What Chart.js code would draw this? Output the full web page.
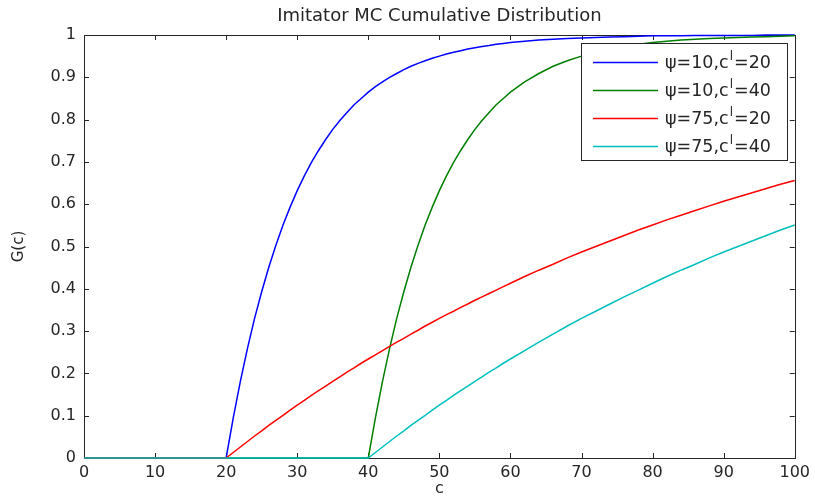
<!DOCTYPE html>
<html>
<head>
<meta charset="utf-8">
<title>Imitator MC Cumulative Distribution</title>
<script src="https://cdn.jsdelivr.net/npm/chart.js@4.4.1/dist/chart.umd.min.js"></script>
<style>
  body { margin: 0; background: #fff; }
  canvas { display: block; }
</style>
</head>
<body>
<canvas id="cdf" width="815" height="499"></canvas>
<script>
// cost grid c (finer where the curves rise fast)
var cVals = [0, 2, 4, 6, 8, 10, 12, 14, 16, 18, 20,
  21, 22, 23, 24, 25, 26, 27, 28, 29, 30, 31, 32, 33, 34, 35, 36, 37, 38, 39, 40,
  41, 42, 43, 44, 45, 46, 47, 48, 49, 50, 51, 52, 53, 54, 55, 56, 57, 58, 59, 60,
  62, 64, 66, 68, 70, 72, 74, 76, 78, 80, 82, 84, 86, 88, 90, 92, 94, 96, 98, 100];

// G(c) for each parameter pair
var g10_20 = [0, 0, 0, 0, 0, 0, 0, 0, 0, 0, 0,
  0.095, 0.181, 0.259, 0.330, 0.393, 0.451, 0.503, 0.551, 0.593, 0.632,
  0.667, 0.699, 0.727, 0.753, 0.777, 0.798, 0.817, 0.835, 0.850, 0.865,
  0.878, 0.889, 0.900, 0.909, 0.918, 0.926, 0.933, 0.939, 0.945, 0.950,
  0.955, 0.959, 0.963, 0.967, 0.970, 0.973, 0.975, 0.978, 0.980, 0.982,
  0.985, 0.988, 0.990, 0.992, 0.993, 0.994, 0.995, 0.996, 0.997, 0.998,
  0.998, 0.998, 0.999, 0.999, 0.999, 0.999, 0.999, 1, 1, 1];
var g10_40 = [0, 0, 0, 0, 0, 0, 0, 0, 0, 0, 0,
  0, 0, 0, 0, 0, 0, 0, 0, 0, 0, 0, 0, 0, 0, 0, 0, 0, 0, 0, 0,
  0.095, 0.181, 0.259, 0.330, 0.393, 0.451, 0.503, 0.551, 0.593, 0.632,
  0.667, 0.699, 0.727, 0.753, 0.777, 0.798, 0.817, 0.835, 0.850, 0.865,
  0.889, 0.909, 0.926, 0.939, 0.950, 0.959, 0.967, 0.973, 0.978, 0.982,
  0.985, 0.988, 0.990, 0.992, 0.993, 0.994, 0.995, 0.996, 0.997, 0.998];
var g75_20 = [0, 0, 0, 0, 0, 0, 0, 0, 0, 0, 0,
  0.013, 0.026, 0.039, 0.052, 0.064, 0.077, 0.089, 0.101, 0.113, 0.125,
  0.136, 0.148, 0.159, 0.170, 0.181, 0.192, 0.203, 0.213, 0.224, 0.234,
  0.244, 0.254, 0.264, 0.274, 0.283, 0.293, 0.302, 0.312, 0.321, 0.330,
  0.339, 0.347, 0.356, 0.364, 0.373, 0.381, 0.389, 0.397, 0.405, 0.413,
  0.429, 0.444, 0.458, 0.473, 0.487, 0.500, 0.513, 0.526, 0.539, 0.551,
  0.563, 0.574, 0.585, 0.596, 0.607, 0.617, 0.627, 0.637, 0.647, 0.656];
var g75_40 = [0, 0, 0, 0, 0, 0, 0, 0, 0, 0, 0,
  0, 0, 0, 0, 0, 0, 0, 0, 0, 0, 0, 0, 0, 0, 0, 0, 0, 0, 0, 0,
  0.013, 0.026, 0.039, 0.052, 0.064, 0.077, 0.089, 0.101, 0.113, 0.125,
  0.136, 0.148, 0.159, 0.170, 0.181, 0.192, 0.203, 0.213, 0.224, 0.234,
  0.254, 0.274, 0.293, 0.312, 0.330, 0.347, 0.364, 0.381, 0.397, 0.413,
  0.429, 0.444, 0.458, 0.473, 0.487, 0.500, 0.513, 0.526, 0.539, 0.551];

var seriesLabels = ['ψ=10,cˡ=20', 'ψ=10,cˡ=40', 'ψ=75,cˡ=20', 'ψ=75,cˡ=40'];
var seriesColors = ['#0000ff', '#007f00', '#ff0000', '#00bfbf'];
var xTicks = [0, 10, 20, 30, 40, 50, 60, 70, 80, 90, 100];
var yTicks = [0, 0.1, 0.2, 0.3, 0.4, 0.5, 0.6, 0.7, 0.8, 0.9, 1];

var FONT = '"DejaVu Sans", "Liberation Sans", Arial, sans-serif';
var AXIS_COLOR = '#262626';

var toPoints = function(ys) {
  return ys.map(function(y, i) { return { x: cVals[i], y: y }; });
};

var allSeries = [g10_20, g10_40, g75_20, g75_40];
var datasets = allSeries.map(function(ys, i) {
  return {
    label: seriesLabels[i],
    data: toPoints(ys),
    borderColor: seriesColors[i],
    backgroundColor: seriesColors[i],
    borderWidth: 1.5,
    pointRadius: 0,
    fill: false,
    clip: 4,                      // let lines sitting on the box show fully
    order: allSeries.length - i   // later series on top, like hold on
  };
});

// axes box with inward ticks on all four sides
var boxPlugin = {
  id: 'matlabBox',
  beforeDatasetsDraw: function(chart) {
    var ctx = chart.ctx, a = chart.chartArea;
    var xs = chart.scales.x, ys = chart.scales.y;
    var len = 5;
    ctx.save();
    ctx.strokeStyle = AXIS_COLOR;
    ctx.lineWidth = 1;
    ctx.strokeRect(Math.round(a.left) + 0.5, Math.round(a.top) + 0.5,
      Math.round(a.right - a.left), Math.round(a.bottom - a.top));
    ctx.beginPath();
    xTicks.forEach(function(v) {
      var px = Math.round(xs.getPixelForValue(v)) + 0.5;
      ctx.moveTo(px, a.bottom); ctx.lineTo(px, a.bottom - len);
      ctx.moveTo(px, a.top); ctx.lineTo(px, a.top + len);
    });
    yTicks.forEach(function(v) {
      var py = Math.round(ys.getPixelForValue(v)) + 0.5;
      ctx.moveTo(a.left, py); ctx.lineTo(a.left + len, py);
      ctx.moveTo(a.right, py); ctx.lineTo(a.right - len, py);
    });
    ctx.stroke();
    ctx.restore();
  }
};

// boxed legend inside the top right corner of the axes
var legendPlugin = {
  id: 'boxLegend',
  afterDatasetsDraw: function(chart) {
    var ctx = chart.ctx, a = chart.chartArea;
    var w = 206, h = 117, rowH = 28;
    var left = Math.round(a.right - 8 - w), top = Math.round(a.top + 8);
    ctx.save();
    ctx.fillStyle = '#fff';
    ctx.fillRect(left, top, w, h);
    ctx.strokeStyle = AXIS_COLOR;
    ctx.lineWidth = 1;
    ctx.strokeRect(left + 0.5, top + 0.5, w, h);
    chart.data.datasets.forEach(function(ds, i) {
      var y = top + 19 + i * rowH;
      ctx.strokeStyle = ds.borderColor;
      ctx.lineWidth = 1.5;
      ctx.beginPath();
      ctx.moveTo(left + 12, y + 0.5);
      ctx.lineTo(left + 77, y + 0.5);
      ctx.stroke();

      // label with a raised "l" after c
      var parts = ds.label.split('ˡ');
      var x = left + 84;
      ctx.fillStyle = AXIS_COLOR;
      ctx.textBaseline = 'middle';
      ctx.font = '17.5px ' + FONT;
      ctx.fillText(parts[0], x, y + 1);
      x += ctx.measureText(parts[0]).width;
      ctx.font = '12px ' + FONT;
      ctx.fillText('l', x + 1, y - 5);
      x += ctx.measureText('l').width + 2;
      ctx.font = '17.5px ' + FONT;
      ctx.fillText(parts[1], x, y + 1);
    });
    ctx.restore();
  }
};

Chart.defaults.color = AXIS_COLOR;
Chart.defaults.font.family = FONT;

new Chart(document.getElementById('cdf'), {
  type: 'line',
  data: { datasets: datasets },
  options: {
    responsive: false,
    animation: false,
    devicePixelRatio: 1,
    layout: { padding: { top: 0, right: 18, bottom: 0, left: 0 } },
    plugins: {
      legend: { display: false },
      tooltip: { enabled: false },
      title: {
        display: true,
        fullSize: false,
        text: 'Imitator MC Cumulative Distribution',
        color: AXIS_COLOR,
        font: { size: 18, weight: 'normal' },
        padding: { top: 6, bottom: 7.4 }
      }
    },
    scales: {
      x: {
        type: 'linear',
        min: 0,
        max: 100,
        afterFit: function(scale) { scale.height = 41; },
        afterBuildTicks: function(scale) {
          scale.ticks = xTicks.map(function(v) { return { value: v }; });
        },
        grid: { display: false, drawTicks: false },
        border: { display: false },
        ticks: { padding: 5, maxRotation: 0, font: { size: 16 } },
        title: { display: true, text: 'c', font: { size: 16 }, padding: { top: 0, bottom: 1 } }
      },
      y: {
        type: 'linear',
        min: 0,
        max: 1,
        afterFit: function(scale) { scale.width = 84; },
        afterBuildTicks: function(scale) {
          scale.ticks = yTicks.map(function(v) { return { value: v }; });
        },
        grid: { display: false, drawTicks: false },
        border: { display: false },
        ticks: {
          padding: 8,
          font: { size: 16 },
          callback: function(v) { return String(+v.toFixed(1)); }
        },
        title: { display: true, text: 'G(c)', font: { size: 15 }, padding: { top: 10, bottom: 0 } }
      }
    }
  },
  plugins: [boxPlugin, legendPlugin]
});
</script>
</body>
</html>
